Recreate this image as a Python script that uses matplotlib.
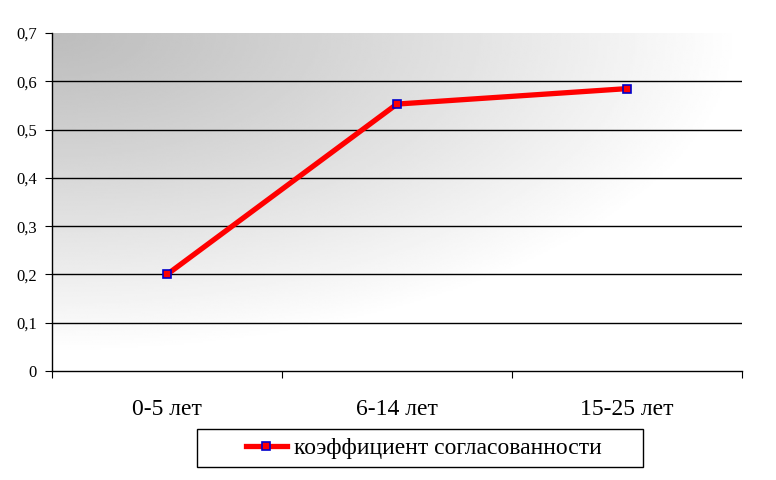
import numpy as np
import matplotlib.pyplot as plt
from matplotlib.ticker import FuncFormatter
from matplotlib.patches import Rectangle

categories = ["0-5 лет", "6-14 лет", "15-25 лет"]
values = [0.2, 0.553, 0.585]
series_name = "коэффициент согласованности"

plt.rcParams['font.family'] = ['Liberation Serif', 'DejaVu Serif']

fig = plt.figure(figsize=(7.76, 4.8), dpi=100)
ax = fig.add_axes([0.067, 0.227, 0.889, 0.704])

# gray gradient background, darkest at upper left
gx, gy = np.meshgrid(np.linspace(0, 1, 300), np.linspace(0, 1, 200))
r = np.sqrt((gx / 1.0) ** 2 + ((1 - gy) / 0.95) ** 2)
shade = 0.74 + 0.26 * np.clip(r, 0, 1) ** 1.1
ax.imshow(shade, extent=[0, 3, 0, 0.7], origin='lower', cmap='gray',
          vmin=0, vmax=1, aspect='auto', zorder=0, interpolation='bilinear')

for yv in np.arange(0.1, 0.65, 0.1):
    ax.axhline(yv, color='black', lw=1, zorder=1)

x = np.arange(len(categories)) + 0.5
ax.plot(x, values, color='red', lw=3.8, zorder=3, marker='s', markersize=5.5,
        markerfacecolor='red', markeredgecolor='#0000cc', markeredgewidth=1.2,
        label=series_name)

ax.set_xlim(0, 3)
ax.set_ylim(0, 0.7)
ax.set_yticks(np.arange(0, 0.71, 0.1))
ax.yaxis.set_major_formatter(FuncFormatter(
    lambda v, p: "0" if abs(v) < 1e-9 else f"{v:.1f}".replace(".", ",")))
ax.set_xticks([0, 1, 2, 3])
ax.set_xticklabels([])
ax.set_xticks(x, minor=True)
ax.set_xticklabels(categories, minor=True, fontsize=17)
ax.tick_params(axis='x', which='minor', length=0, pad=20)
ax.tick_params(axis='x', which='major', direction='out', length=5, color='black')
ax.tick_params(axis='y', direction='out', length=5, labelsize=12, pad=6)

for s in ['top', 'right']:
    ax.spines[s].set_visible(False)
for s in ['left', 'bottom']:
    ax.spines[s].set_color('black')
    ax.spines[s].set_linewidth(1)

# legend box drawn separately (wider than matplotlib's own frame)
fig.patches.append(Rectangle((0.254, 0.027), 0.575, 0.079, transform=fig.transFigure,
                             fill=False, edgecolor='black', lw=1))
leg = fig.legend(loc='center', bbox_to_anchor=(0.546, 0.066), fontsize=17,
                 frameon=False, handlelength=1.75, handletextpad=0.3,
                 borderaxespad=0)
for line in leg.get_lines():
    line.set_markersize(5.5)

fig.savefig("out.png", dpi=100)
